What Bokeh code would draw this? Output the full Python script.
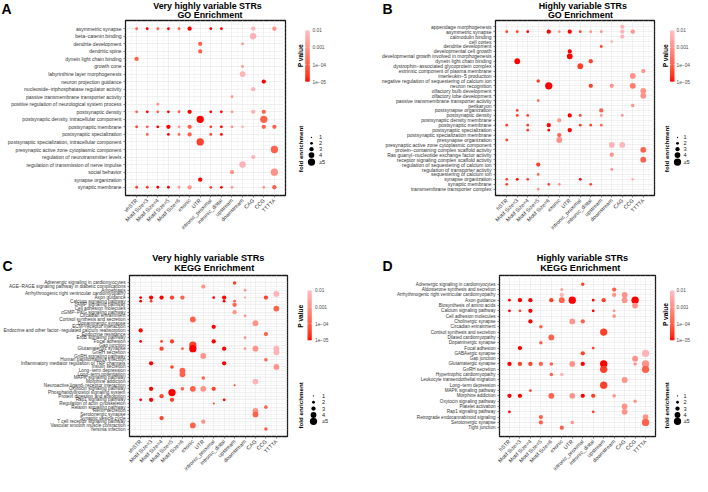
import numpy as np
from bokeh.plotting import figure
from bokeh.models import (ColumnDataSource, FactorRange, Range1d, LogColorMapper,
                          LinearInterpolator, Grid, FixedTicker)
from bokeh.transform import transform
from bokeh.layouts import row, column
from bokeh.core.properties import value
from bokeh.embed import file_html
from bokeh.resources import INLINE

FONT = "Liberation Sans"
TXT = "#333333"

# ---------------- data ----------------
col_tail = ["Motif Size=3", "Motif Size=4", "Motif Size=5", "Motif Size=6", "exonic", "UTR",
            "intronic_proximal", "intronic_distal", "upstream", "downstream", "CAG", "CCG", "TTTTA"]
vh_cols = ["vhSTR"] + col_tail
h_cols = ["hSTR"] + col_tail

A_terms = ["asymmetric synapse", "beta\u2212catenin binding", "dendrite development", "dendritic spine",
           "dynein light chain binding", "growth cone", "labyrinthine layer morphogenesis",
           "neuron projection guidance", "nucleoside\u2212triphosphatase regulator activity",
           "passive transmembrane transporter activity",
           "positive regulation of neurological system process", "postsynaptic density",
           "postsynaptic density, intracellular component", "postsynaptic membrane",
           "postsynaptic specialization", "postsynaptic specialization, intracellular component",
           "presynaptic active zone cytoplasmic component", "regulation of neurotransmitter levels",
           "regulation of transmission of nerve impulse", "social behavior", "synapse organization",
           "synaptic membrane"]
A_col = [[0,1,2,3,4,5,7,8,11,13],[11],[6,10],[6],[0],[10],[10],[12],[11],[9],[2],
         [0,1,2,3,4,5,7,8,9,11,12],[6,12],[0,1,2,3,4,5,7,8,9,10,12,13],[1,3,4,5,7,8],
         [6],[13],[11],[10],[9,13],[6],[0,1,2,3,4,5,7,8,9,12,13]]
A_fe = [[2,2,2,2,2,3,2,2,3,3],[4.5],[3,2],[3],[3],[2],[4],[3],[3],[2],[2],
        [2,2,2,2,2,3,2,2,2,3,3],[5,5],[2,2,2,3,2,3,2,2,2,2,3,3],[2,2,2,3,2,2],
        [5],[5],[3],[4.5],[3,5],[3],[2,2,2,2,2,3,2,2,2,2,3]]
A_p = [[1e-4,1e-5,1e-4,1e-5,1e-4,1e-5,1e-5,1e-5,5e-3,1e-3],[5e-3],[1e-4,1e-3],[1e-4],[1e-4],
       [1e-3],[5e-3],[1e-5],[5e-3],[1e-3],[1e-3],
       [1e-4,1e-5,1e-4,1e-5,1e-4,1e-5,1e-5,1e-5,1e-3,5e-3,1e-4],[1e-5,1e-4],
       [3e-5,1e-4,1e-5,1e-5,1e-3,1e-4,3e-5,1e-5,1e-3,5e-3,1e-4,1e-4],
       [1e-4,1e-5,1e-4,1e-4,3e-5,1e-5],[3e-5],[1e-4],[5e-3],[5e-3],[1e-3,1e-3],[1e-5],
       [3e-5,3e-5,1e-5,1e-5,1e-3,1e-3,3e-5,1e-5,1e-3,1e-3,1e-4]]

B_terms = ["appendage morphogenesis", "asymmetric synapse", "calmodulin binding", "cell cortex",
           "dendrite development", "developmental cell growth",
           "developmental growth involved in morphogenesis", "dynein light chain binding",
           "dystrophin\u2212associated glycoprotein complex", "extrinsic component of plasma membrane",
           "interleukin\u22125 production", "negative regulation of sequestering of calcium ion",
           "neuron recognition", "olfactory bulb development", "olfactory lobe development",
           "passive transmembrane transporter activity", "perikaryon", "postsynapse organization",
           "postsynaptic density", "postsynaptic density membrane", "postsynaptic membrane",
           "postsynaptic specialization", "postsynaptic specialization membrane",
           "presynapse organization", "presynaptic active zone cytoplasmic component",
           "protein\u2212containing complex scaffold activity",
           "Ras guanyl\u2212nucleotide exchange factor activity",
           "receptor signaling complex scaffold activity", "regulation of sequestering of calcium ion",
           "regulation of transporter activity", "sequestering of calcium ion", "synapse organization",
           "synaptic membrane", "transmembrane transporter complex"]
B_col = [[11],[0,1,2,4,5,6,7,8,9,11,12],[11],[10],[9],[6],[6],[1,8],[7],[13],[12],[3],
         [4,8,10,12],[13],[13],[3],[12],[1,9],[1,2,6,7,9,11],[5],[0,2,4,7,8,9],[2,4,6],[5],
         [0,5],[10,11],[13],[10],[13],[3],[10],[3],[0,1,2,7,12],[0,4,5,8],[3]]
B_fe = [[3],[2,2,2,3,2,3,2,2,2,3,3],[3],[2],[2],[3],[4],[4,3],[4],[3],[4],[2.5],
        [5,3,3,4],[4],[4],[2],[2.5],[2,3],[2,2,3,2,2,2],[3],[2,2,3,2,2,2],[2,2,3],[3],
        [2,4],[4,4],[4],[3],[4],[3],[2],[2],[2,2,2,2,2],[2,2,2,2],[2]]
B_p = [[5e-3],[3e-5,3e-5,1e-5,1e-5,1e-3,1e-5,3e-5,1e-3,1e-3,5e-3,1e-3],[5e-3],[5e-3],[3e-5],
       [1e-5],[1e-5],[1e-5,3e-5],[3e-5],[1e-3],[1e-3],[3e-5],[1e-5,3e-5,1e-3,3e-4],[1e-3],
       [1e-3],[1e-4],[1e-3],[3e-5,1e-4],[3e-5,3e-5,1e-5,3e-5,1e-3,1e-3],[1e-3],
       [3e-5,3e-5,1e-5,3e-5,3e-5,1e-4],[3e-5,1e-5,1e-5],[1e-4],[3e-5,1e-3],[5e-3,5e-3],
       [1e-4],[1e-3],[1e-4],[3e-5],[1e-3],[1e-4],[3e-5,1e-5,3e-5,1e-5,5e-3],
       [3e-5,3e-5,1e-3,3e-5],[1e-3]]

C_terms = ["Adrenergic signaling in cardiomyocytes",
           "AGE\u2212RAGE signaling pathway in diabetic complications", "Amoebiasis",
           "Arrhythmogenic right ventricular cardiomyopathy", "Axon guidance",
           "Calcium signaling pathway", "cAMP signaling pathway", "Cell adhesion molecules",
           "cGMP\u2212PKG signaling pathway", "Circadian entrainment", "Cortisol synthesis and secretion",
           "Dopaminergic synapse", "ECM\u2212receptor interaction",
           "Endocrine and other factor\u2212regulated calcium reabsorption", "Endocrine resistance",
           "ErbB signaling pathway", "Focal adhesion", "Gap junction", "Glutamatergic synapse",
           "GnRH secretion", "GnRH signaling pathway", "Human papillomavirus infection",
           "Inflammatory mediator regulation of TRP channels", "Insulin secretion",
           "Long\u2212term depression", "Long\u2212term potentiation", "MAPK signaling pathway",
           "Morphine addiction", "Neuroactive ligand\u2212receptor interaction",
           "Oxytocin signaling pathway", "Phosphatidylinositol signaling system",
           "Protein digestion and absorption", "Rap1 signaling pathway",
           "Regulation of actin cytoskeleton", "Relaxin signaling pathway", "Renin secretion",
           "Serotonergic synapse", "Synaptic vesicle cycle", "T cell receptor signaling pathway",
           "Vascular smooth muscle contraction", "Yersinia infection"]
C_col = [[9],[6],[10],[13],[0,1,2,3,4,7,8,10,12],[0,1,8,9],[9],[13],[9],[10],[5],[11],[7],[0],
         [12],[10],[0,2,3,7],[5],[2,4,5,8,10,11,13],[13],[6],[12],[1,8],[3,13],[4],[4],[6],
         [11],[9],[1,4,5,6,7],[3],[2],[0,1,3,8],[7],[12],[11],[11],[2],[6],[5],[12]]
C_fe = [[2.5],[3],[2],[4],[2,3,3,3,3,2,3,1.5,3],[2,2,2,2],[3],[4],[3],[2],[4],[4],[3],[3],
        [3],[2],[2,2,3,3],[5],[3,2,5,3,2,4,4],[4],[4],[2.5],[3,3],[2.5,4],[4],[4],[2.5],
        [4],[1.5],[3,2.5,4,4,3],[5],[3],[2,3,3,2],[1.5],[2.5],[4],[4],[3],[3],[4],[2.5]]
C_p = [[3e-5],[1e-3],[1e-3],[5e-3],[1e-5,1e-5,1e-5,3e-5,1e-4,1e-5,1e-5,1e-3,3e-5],
       [1e-5,3e-5,1e-5,1e-4],[1e-4],[1e-4],[1e-3],[1e-3],[1e-4],[1e-3],[1e-5],[1e-5],[1e-4],
       [1e-3],[1e-5,3e-5,3e-5,1e-5],[3e-5],[3e-5,1e-4,1e-5,1e-5,1e-3,1e-3,5e-3],[5e-3],
       [1e-3],[1e-4],[1e-5,1e-5],[3e-5,1e-3],[1e-4],[1e-4],[1e-4],[5e-3],[3e-5],
       [1e-5,1e-4,1e-4,1e-3,3e-5],[1e-5],[3e-5],[1e-5,1e-5,3e-5,1e-5],[3e-5],[1e-4],
       [1e-3],[1e-4],[3e-5],[1e-3],[1e-4],[1e-4]]

D_terms = ["Adrenergic signaling in cardiomyocytes", "Aldosterone synthesis and secretion",
           "Arrhythmogenic right ventricular cardiomyopathy", "Axon guidance",
           "Biosynthesis of amino acids", "Calcium signaling pathway", "Cell adhesion molecules",
           "Cholinergic synapse", "Circadian entrainment", "Cortisol synthesis and secretion",
           "Dilated cardiomyopathy", "Dopaminergic synapse", "Focal adhesion", "GABAergic synapse",
           "Gap junction", "Glutamatergic synapse", "GnRH secretion", "Hypertrophic cardiomyopathy",
           "Leukocyte transendothelial migration", "Long\u2212term depression", "MAPK signaling pathway",
           "Morphine addiction", "Oxytocin signaling pathway", "Platelet activation",
           "Rap1 signaling pathway", "Retrograde endocannabinoid signaling", "Serotonergic synapse",
           "Tight junction"]
D_col = [[7],[5,10],[5,10,11],[0,1,2,4,5,6,8,9,11,12],[12],[0,1,2,8,10],[10],[2,6,7],[3],[9],
         [4],[3],[1,8],[7,13],[12],[0,1,2,3,4,6,7,9,12,13],[9,13],[4,5],[11],[9],[2],
         [0,1,4,6,7,8,10],[12],[11],[0,8,11],[3,13],[3,6,13],[5]]
D_fe = [[2.5],[2,3],[3,3,4],[2,3,3,3,4,5,2,3,4,5],[4],[2,2,3,2,2],[2.5],[3,4,3],[2.5],[5],
        [4],[2.5],[3,2],[3,5],[4],[3,3,3,3,2.5,4,3,5,2.5,5],[5,5],[2.5,2.5],[4],[5],[2],
        [3,3,4,4,3,3,2.5],[2.5],[4],[2,2,4],[3,4],[3,2.5,5],[3]]
D_p = [[3e-5],[1e-3,1e-4],[5e-3,1e-3,1e-3],[1e-5,1e-5,1e-5,3e-5,1e-4,1e-5,1e-5,3e-5,1e-3,1e-5],
       [1e-3],[1e-5,3e-5,1e-5,1e-5,1e-3],[1e-3],[1e-5,1e-3,1e-4],[1e-4],[3e-5],[1e-4],[1e-4],
       [1e-5,3e-5],[3e-5,5e-3],[1e-3],[1e-5,3e-5,3e-5,1e-4,1e-4,1e-3,1e-5,1e-5,1e-3,1e-3],
       [3e-5,1e-4],[1e-4,5e-3],[1e-3],[3e-5],[3e-5],[1e-5,1e-5,1e-4,1e-3,1e-5,3e-5,1e-3],
       [1e-3],[1e-3],[1e-5,3e-5,1e-3],[1e-4,1e-3],[1e-4,1e-3,1e-4],[1e-4]]

cb_values = [1e-2, 1e-3, 1e-4, 1e-5]
cb_labels = ["0.01", "0.001", "1e\u221204", "1e\u221205"]
leg_fe = [1, 2, 3, 4, 5]
leg_labels = ["1", "2", "3", "4", "\u22655"]

panel_letters = ["A", "B", "C", "D"]
title_line1 = ["Very highly variable STRs", "Highly variable STRs",
               "Very highly variable STRs", "Highly variable STRs"]
title_line2 = ["GO Enrichment", "GO Enrichment", "KEGG Enrichment", "KEGG Enrichment"]

# ---------------- scales ----------------
def srgb_to_lab(rgb):
    c = np.array(rgb, dtype=float) / 255.0
    c = np.where(c <= 0.04045, c / 12.92, ((c + 0.055) / 1.055) ** 2.4)
    M = np.array([[0.4124564, 0.3575761, 0.1804375], [0.2126729, 0.7151522, 0.0721750],
                  [0.0193339, 0.1191920, 0.9503041]])
    t = (M @ c) / np.array([0.95047, 1.0, 1.08883])
    d = 6 / 29
    f = np.where(t > d ** 3, np.cbrt(t), t / (3 * d * d) + 4 / 29)
    return np.array([116 * f[1] - 16, 500 * (f[0] - f[1]), 200 * (f[1] - f[2])])

def lab_to_hex(lab):
    L, a, b = lab
    fy = (L + 16) / 116
    fx = fy + a / 500
    fz = fy - b / 200
    d = 6 / 29
    f = np.array([fx, fy, fz])
    t = np.where(f > d, f ** 3, 3 * d * d * (f - 4 / 29)) * np.array([0.95047, 1.0, 1.08883])
    Minv = np.array([[3.2404542, -1.5371385, -0.4985314], [-0.9692660, 1.8760108, 0.0415560],
                     [0.0556434, -0.2040259, 1.0572252]])
    c = Minv @ t
    c = np.where(c <= 0.0031308, 12.92 * c, 1.055 * np.clip(c, 0, None) ** (1 / 2.4) - 0.055)
    c = np.clip(np.round(c * 255), 0, 255).astype(int)
    return "#%02x%02x%02x" % tuple(c)

lab_lo = srgb_to_lab((255, 0, 0))
lab_hi = srgb_to_lab((255, 192, 203))
palette = [lab_to_hex(lab_lo + (lab_hi - lab_lo) * t) for t in np.linspace(0, 1, 256)]
cmap = LogColorMapper(palette=palette, low=1e-5, high=1e-2)
size_map = LinearInterpolator(x=[1, 5], y=[1.3, 7.3], clip=True)


def blank(W, H, xr, yr):
    f = figure(width=W, height=H, x_range=xr, y_range=yr, x_axis_type=None, y_axis_type=None,
               output_backend="svg", toolbar_location=None, min_border_left=0,
               min_border_right=0, min_border_top=0, min_border_bottom=0)
    f.outline_line_color = None
    f.grid.visible = False
    return f


def build_header(top, bottom, idx, letter_xy, t1_xy, t2_xy, tfs):
    # page-pixel coordinates: x from 8 to 700, y downwards from top to bottom
    h = blank(692, bottom - top, Range1d(8, 700), Range1d(bottom, top))
    h.text(x=[letter_xy[i][0] for i in range(2)], y=[letter_xy[i][1] for i in range(2)],
           text=[panel_letters[j] for j in idx], text_font=value(FONT), text_font_size="14px",
           text_font_style="bold", text_align="left", text_baseline="middle", text_color="black")
    h.text(x=[t1_xy[i][0] for i in range(2)], y=[t1_xy[i][1] for i in range(2)],
           text=[title_line1[j] for j in idx], text_font=value(FONT), text_font_size=tfs,
           text_font_style="bold", text_align="center", text_baseline="middle", text_color="black")
    h.text(x=[t2_xy[i][0] for i in range(2)], y=[t2_xy[i][1] for i in range(2)],
           text=[title_line2[j] for j in idx], text_font=value(FONT), text_font_size=tfs,
           text_font_style="bold", text_align="center", text_baseline="middle", text_color="black")
    return h


def build_panel(terms, cols, cl, fl, pl, W, H, bl, br, bt, bb, hx, hy, yfs):
    rr, cc, ff, pp = [], [], [], []
    for term, cs, fs, ps in zip(terms, cl, fl, pl):
        assert len(cs) == len(fs) == len(ps), term
        for c, f, pv in zip(cs, fs, ps):
            rr.append(term); cc.append(cols[c]); ff.append(f); pp.append(pv)
    src = ColumnDataSource(dict(term=rr, col=cc, fe=ff, p=pp))
    xr = FactorRange(factors=cols, range_padding=hx, range_padding_units="absolute")
    yr = FactorRange(factors=terms[::-1], range_padding=hy, range_padding_units="absolute")
    p = figure(width=W, height=H, x_range=xr, y_range=yr, output_backend="svg",
               toolbar_location=None, min_border_left=bl, min_border_right=br,
               min_border_top=bt, min_border_bottom=bb)
    p.background_fill_color = "white"
    p.border_fill_color = "white"
    p.outline_line_color = "#1a1a1a"
    p.outline_line_width = 1.3
    p.xgrid.grid_line_color = "#e6e6e6"
    p.ygrid.grid_line_color = "#e6e6e6"
    p.xgrid.grid_line_width = 0.6
    p.ygrid.grid_line_width = 0.6
    p.add_layout(Grid(dimension=0, ticker=FixedTicker(ticks=list(range(-2, len(cols) + 3))),
                      grid_line_color="#f0f0f0", grid_line_width=0.4))
    p.add_layout(Grid(dimension=1, ticker=FixedTicker(ticks=list(range(-2, len(terms) + 3))),
                      grid_line_color="#f0f0f0", grid_line_width=0.4))
    p.scatter(x="col", y="term", size=transform("fe", size_map),
              fill_color=transform("p", cmap), line_color=None, source=src)
    for ax in (p.xaxis[0], p.yaxis[0]):
        ax.axis_line_color = None
        ax.major_tick_line_color = "#333333"
        ax.major_tick_line_width = 0.6
        ax.major_tick_out = 2
        ax.major_tick_in = 0
        ax.minor_tick_line_color = None
        ax.major_label_text_font = FONT
        ax.major_label_text_color = TXT
        ax.major_label_standoff = 2
    p.yaxis.major_label_text_font_size = yfs
    p.xaxis.major_label_text_font_size = "5.4px"
    p.xaxis.major_label_orientation = np.pi / 4
    return p


def build_legend(W, H, left, top, cb, cb_lab_x, pv_xy, fe_xy, dot_x, dot_ys, lab_x):
    lp = blank(W, H, Range1d(0, W), Range1d(0, H))
    lx = lambda X: X - left
    ly = lambda Y: H - (Y - top)
    x0, x1, y0, y1 = cb
    grad = np.logspace(np.log10(cmap.low), np.log10(cmap.high), 200).reshape(-1, 1)
    lp.image(image=[grad], x=lx(x0), y=ly(y1), dw=x1 - x0, dh=y1 - y0, color_mapper=cmap)
    frac = (np.log10(cb_values) - np.log10(cmap.low)) / (np.log10(cmap.high) - np.log10(cmap.low))
    ty = [ly(y1) + f * (y1 - y0) for f in frac]
    tw = (x1 - x0) * 0.22
    lp.segment(x0=[lx(x0)] * 4, x1=[lx(x0) + tw] * 4, y0=ty, y1=ty, line_color="white", line_width=0.6)
    lp.segment(x0=[lx(x1) - tw] * 4, x1=[lx(x1)] * 4, y0=ty, y1=ty, line_color="white", line_width=0.6)
    lp.text(x=[lx(cb_lab_x)] * 4, y=ty, text=cb_labels, text_font=value(FONT),
            text_font_size="4.8px", text_baseline="middle", text_align="left", text_color="#4d4d4d")
    lp.text(x=[lx(pv_xy[0])], y=[ly(pv_xy[1])], text=["P value"], angle=np.pi / 2,
            text_font=value(FONT), text_font_size="6.6px", text_font_style="bold",
            text_align="center", text_baseline="middle", text_color="black")
    lp.text(x=[lx(fe_xy[0])], y=[ly(fe_xy[1])], text=["fold enrichment"], angle=np.pi / 2,
            text_font=value(FONT), text_font_size="6.2px", text_font_style="bold",
            text_align="center", text_baseline="middle", text_color="black")
    lsrc = ColumnDataSource(dict(x=[lx(dot_x)] * 5, y=[ly(v) for v in dot_ys], fe=leg_fe,
                                 lab=leg_labels, lx=[lx(lab_x)] * 5))
    lp.scatter(x="x", y="y", size=transform("fe", size_map), fill_color="black",
               line_color=None, source=lsrc)
    lp.text(x="lx", y="y", text="lab", text_font=value(FONT), text_font_size="5.6px",
            text_baseline="middle", text_align="left", text_color="#222222", source=lsrc)
    return lp


# page layout (page pixels): header 8-27, top row 27-245, header 245-282, bottom row 282-484
hTop = build_header(8, 27, [0, 1], [(9, 16), (390, 16)], [(215, 13.2), (590.3, 13.2)],
                    [(217.5, 22), (588, 22)], "8.9px")
TOP_H = 245 - 27
pA = build_panel(A_terms, vh_cols, A_col, A_fe, A_p, 292, TOP_H, 125, 7, 1, 42, 0.55, 0.59, "5px")
lA = build_legend(55, TOP_H, 300, 27, (312.7, 317.3, 39.3, 103.3), 320, (308.3, 71),
                  (308.3, 187), 319, [172.7, 180, 187.3, 194.7, 203.3], 326.5)
pB = build_panel(B_terms, h_cols, B_col, B_fe, B_p, 310, TOP_H, 148, 3, 1, 41, 0.57, 0.78, "5px")
lB = build_legend(35, TOP_H, 665, 27, (677.5, 682, 39.3, 103.3), 684, (673, 71),
                  (674, 187), 685, [172.7, 180, 187.3, 194.7, 203.3], 691)

hBot = build_header(245, 282, [2, 3], [(10, 273.5), (390, 273.5)], [(215.8, 265.2), (590, 265.7)],
                    [(221.7, 275.8), (587.8, 275.8)], "9.2px")
BOT_H = 484 - 282
pC = build_panel(C_terms, vh_cols, C_col, C_fe, C_p, 292, BOT_H, 128, 5, 1, 27, 0.57, 1.54, "4.7px")
lC = build_legend(55, BOT_H, 300, 282, (315, 319.3, 300.7, 363.3), 322.5, (308.3, 333),
                  (308.3, 445), 321, [433, 441, 449, 457, 465], 329.5)
pD = build_panel(D_terms, h_cols, D_col, D_fe, D_p, 310, BOT_H, 152, 2, 1, 27, 0.45, 1.15, "4.6px")
lD = build_legend(35, BOT_H, 665, 282, (677.5, 682, 300.7, 363.3), 684, (673, 331),
                  (674, 445), 685, [433, 441, 449, 457, 465], 691)

layout = column(hTop, row(pA, lA, pB, lB), hBot, row(pC, lC, pD, lD))
open("out.html", "w").write(file_html(layout, INLINE))
